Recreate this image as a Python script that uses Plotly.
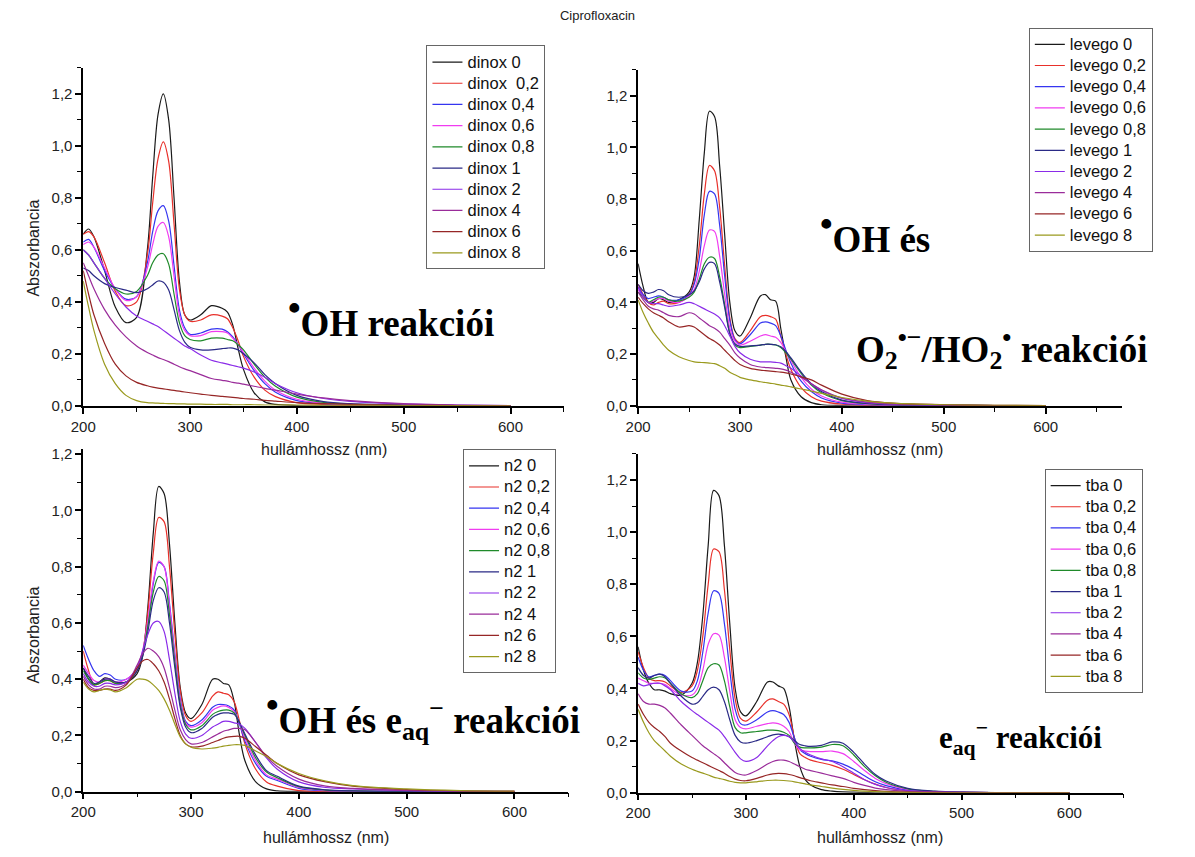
import plotly.graph_objects as go

# ---------------- data ----------------
series_suffix = ["0", "0,2", "0,4", "0,6", "0,8", "1", "2", "4", "6", "8"]
colors = ["#1a1a1a", "#e8302a", "#3535f0", "#f03cf0", "#1f8a2a",
          "#2a2a86", "#8a2be8", "#9a2c9a", "#962626", "#9a9a1e"]

# --- panel 1: dinox ---
wl_dinox = [200, 205, 210, 220, 230, 240, 250, 260, 265, 270, 275, 280, 285, 290, 295, 300,
            310, 320, 330, 335, 340, 345, 350, 360, 370, 380, 400, 425, 450, 500, 550, 600]
dinox_0 = [0.66, 0.68, 0.65, 0.52, 0.38, 0.32, 0.34, 0.60, 0.88, 1.12, 1.20, 1.10, 0.80, 0.48, 0.35, 0.33,
           0.35, 0.385, 0.375, 0.36, 0.31, 0.22, 0.14, 0.05, 0.015, 0.005, 0.001, 0, 0, 0, 0, 0]
dinox_02 = [0.66, 0.67, 0.65, 0.55, 0.44, 0.385, 0.40, 0.58, 0.78, 0.95, 1.015, 0.94, 0.70, 0.45, 0.35, 0.325,
            0.33, 0.35, 0.345, 0.335, 0.30, 0.25, 0.19, 0.11, 0.06, 0.035, 0.012, 0.005, 0.002, 0.001, 0, 0]
dinox_04 = [0.63, 0.64, 0.61, 0.52, 0.45, 0.41, 0.42, 0.55, 0.67, 0.75, 0.77, 0.71, 0.54, 0.37, 0.30, 0.275,
            0.28, 0.295, 0.295, 0.285, 0.265, 0.235, 0.20, 0.135, 0.085, 0.052, 0.02, 0.008, 0.004, 0.001, 0, 0]
dinox_06 = [0.62, 0.63, 0.61, 0.53, 0.45, 0.405, 0.42, 0.53, 0.62, 0.69, 0.705, 0.65, 0.50, 0.35, 0.29, 0.27,
            0.27, 0.285, 0.285, 0.28, 0.26, 0.235, 0.205, 0.145, 0.095, 0.06, 0.025, 0.01, 0.005, 0.002, 0.001, 0]
dinox_08 = [0.60, 0.58, 0.55, 0.49, 0.45, 0.43, 0.44, 0.50, 0.55, 0.58, 0.585, 0.545, 0.43, 0.32, 0.27, 0.255,
            0.25, 0.26, 0.26, 0.255, 0.25, 0.235, 0.215, 0.16, 0.11, 0.075, 0.033, 0.013, 0.006, 0.002, 0.001, 0]
dinox_1 = [0.53, 0.52, 0.50, 0.47, 0.455, 0.445, 0.435, 0.45, 0.465, 0.48, 0.475, 0.445, 0.37, 0.29, 0.245, 0.225,
           0.215, 0.215, 0.22, 0.222, 0.222, 0.215, 0.20, 0.165, 0.12, 0.085, 0.04, 0.016, 0.008, 0.003, 0.001, 0]
dinox_2 = [0.60, 0.58, 0.55, 0.49, 0.43, 0.38, 0.345, 0.325, 0.315, 0.305, 0.29, 0.275, 0.26, 0.245, 0.23, 0.22,
           0.195, 0.175, 0.165, 0.16, 0.155, 0.15, 0.145, 0.13, 0.11, 0.085, 0.05, 0.028, 0.017, 0.007, 0.003, 0.001]
dinox_4 = [0.55, 0.50, 0.45, 0.37, 0.31, 0.265, 0.23, 0.205, 0.195, 0.185, 0.178, 0.17, 0.16, 0.15, 0.142, 0.135,
           0.12, 0.105, 0.098, 0.095, 0.09, 0.087, 0.083, 0.075, 0.067, 0.06, 0.045, 0.03, 0.02, 0.008, 0.003, 0.001]
dinox_6 = [0.52, 0.43, 0.35, 0.24, 0.16, 0.115, 0.09, 0.077, 0.072, 0.068, 0.065, 0.062, 0.059, 0.056, 0.053, 0.05,
           0.045, 0.04, 0.036, 0.034, 0.032, 0.03, 0.028, 0.025, 0.021, 0.018, 0.012, 0.008, 0.005, 0.002, 0.001, 0]
dinox_8 = [0.48, 0.38, 0.29, 0.16, 0.085, 0.04, 0.02, 0.012, 0.011, 0.01, 0.009, 0.008, 0.008, 0.007, 0.007, 0.006,
           0.006, 0.005, 0.005, 0.005, 0.004, 0.004, 0.004, 0.004, 0.003, 0.003, 0.003, 0.002, 0.002, 0.001, 0.001, 0]

# --- panel 2: levego ---
wl_levego = [200, 205, 210, 215, 220, 225, 230, 240, 250, 255, 260, 265, 270, 275, 280, 285, 290, 295, 300,
             310, 320, 325, 330, 335, 340, 345, 350, 360, 370, 380, 400, 425, 450, 500, 550, 600]
levego_0 = [0.55, 0.46, 0.40, 0.40, 0.415, 0.41, 0.40, 0.41, 0.44, 0.50, 0.72, 0.98, 1.14, 1.12, 0.93, 0.66, 0.40, 0.29, 0.27,
            0.34, 0.425, 0.43, 0.41, 0.405, 0.30, 0.19, 0.10, 0.035, 0.012, 0.004, 0.001, 0, 0, 0, 0, 0]
levego_02 = [0.47, 0.43, 0.40, 0.39, 0.40, 0.405, 0.395, 0.40, 0.43, 0.48, 0.62, 0.82, 0.93, 0.91, 0.77, 0.54, 0.34, 0.26, 0.245,
             0.29, 0.345, 0.35, 0.345, 0.335, 0.27, 0.20, 0.14, 0.07, 0.035, 0.018, 0.006, 0.002, 0.001, 0, 0, 0]
levego_04 = [0.46, 0.43, 0.415, 0.42, 0.425, 0.42, 0.41, 0.41, 0.43, 0.47, 0.57, 0.74, 0.83, 0.82, 0.70, 0.50, 0.33, 0.255, 0.24,
             0.275, 0.32, 0.325, 0.32, 0.31, 0.27, 0.215, 0.165, 0.095, 0.055, 0.03, 0.01, 0.004, 0.002, 0.001, 0, 0]
levego_06 = [0.45, 0.42, 0.40, 0.405, 0.415, 0.415, 0.405, 0.40, 0.425, 0.45, 0.52, 0.62, 0.68, 0.675, 0.58, 0.43, 0.30, 0.25, 0.235,
             0.25, 0.27, 0.275, 0.27, 0.265, 0.245, 0.21, 0.175, 0.11, 0.065, 0.038, 0.014, 0.006, 0.003, 0.001, 0, 0]
levego_08 = [0.44, 0.42, 0.40, 0.41, 0.42, 0.42, 0.41, 0.405, 0.42, 0.44, 0.49, 0.55, 0.575, 0.57, 0.50, 0.39, 0.28, 0.235, 0.225,
             0.23, 0.235, 0.238, 0.238, 0.235, 0.225, 0.205, 0.18, 0.125, 0.08, 0.05, 0.02, 0.008, 0.004, 0.002, 0.001, 0]
levego_1 = [0.47, 0.445, 0.435, 0.44, 0.45, 0.445, 0.43, 0.42, 0.43, 0.445, 0.48, 0.53, 0.555, 0.55, 0.48, 0.38, 0.28, 0.24, 0.23,
            0.232, 0.235, 0.238, 0.238, 0.236, 0.228, 0.21, 0.185, 0.13, 0.085, 0.055, 0.022, 0.009, 0.004, 0.002, 0.001, 0]
levego_2 = [0.46, 0.42, 0.40, 0.395, 0.395, 0.39, 0.385, 0.39, 0.40, 0.395, 0.385, 0.375, 0.365, 0.355, 0.34, 0.31, 0.27, 0.23, 0.205,
            0.18, 0.17, 0.17, 0.17, 0.168, 0.165, 0.155, 0.145, 0.115, 0.085, 0.06, 0.028, 0.012, 0.006, 0.002, 0.001, 0]
levego_4 = [0.44, 0.41, 0.385, 0.375, 0.37, 0.36, 0.35, 0.345, 0.36, 0.355, 0.34, 0.325, 0.31, 0.30, 0.285, 0.26, 0.235, 0.205, 0.185,
            0.16, 0.15, 0.148, 0.147, 0.145, 0.143, 0.138, 0.13, 0.11, 0.085, 0.062, 0.03, 0.014, 0.007, 0.003, 0.001, 0]
levego_6 = [0.42, 0.395, 0.375, 0.36, 0.35, 0.34, 0.325, 0.305, 0.31, 0.305, 0.29, 0.275, 0.26, 0.25, 0.235, 0.215, 0.195, 0.175, 0.16,
            0.145, 0.138, 0.136, 0.134, 0.132, 0.13, 0.127, 0.123, 0.112, 0.10, 0.08, 0.045, 0.02, 0.01, 0.004, 0.002, 0.001]
levego_8 = [0.41, 0.36, 0.32, 0.285, 0.26, 0.235, 0.215, 0.19, 0.175, 0.17, 0.168, 0.167, 0.165, 0.163, 0.155, 0.145, 0.13, 0.12, 0.11,
            0.10, 0.093, 0.09, 0.087, 0.084, 0.08, 0.077, 0.073, 0.065, 0.057, 0.048, 0.032, 0.018, 0.01, 0.004, 0.002, 0.001]

# --- panel 3: n2 ---
wl_n2 = [200, 205, 210, 215, 220, 225, 230, 240, 250, 255, 260, 265, 270, 275, 280, 285, 290, 295, 300,
         310, 320, 325, 330, 335, 340, 345, 350, 360, 370, 380, 400, 425, 450, 500, 550, 600]
n2_0 = [0.44, 0.40, 0.38, 0.39, 0.405, 0.40, 0.39, 0.39, 0.42, 0.48, 0.66, 0.92, 1.085, 1.06, 0.88, 0.60, 0.37, 0.28, 0.26,
        0.31, 0.40, 0.40, 0.385, 0.38, 0.32, 0.20, 0.11, 0.035, 0.01, 0.003, 0.001, 0, 0, 0, 0, 0]
n2_02 = [0.50, 0.43, 0.38, 0.385, 0.395, 0.395, 0.385, 0.39, 0.43, 0.49, 0.64, 0.85, 0.975, 0.96, 0.80, 0.56, 0.36, 0.27, 0.25,
         0.28, 0.34, 0.355, 0.35, 0.345, 0.32, 0.25, 0.17, 0.08, 0.035, 0.02, 0.004, 0.001, 0, 0, 0, 0]
n2_04 = [0.52, 0.47, 0.43, 0.41, 0.42, 0.415, 0.40, 0.40, 0.44, 0.49, 0.60, 0.74, 0.815, 0.80, 0.67, 0.49, 0.33, 0.25, 0.235,
         0.255, 0.30, 0.31, 0.31, 0.305, 0.29, 0.24, 0.18, 0.10, 0.055, 0.04, 0.012, 0.004, 0.002, 0.001, 0, 0]
n2_06 = [0.45, 0.42, 0.395, 0.39, 0.40, 0.40, 0.39, 0.40, 0.44, 0.50, 0.61, 0.75, 0.82, 0.80, 0.66, 0.48, 0.32, 0.245, 0.23,
         0.245, 0.29, 0.30, 0.305, 0.30, 0.285, 0.245, 0.19, 0.11, 0.06, 0.045, 0.015, 0.005, 0.002, 0.001, 0, 0]
n2_08 = [0.43, 0.40, 0.38, 0.385, 0.395, 0.395, 0.385, 0.39, 0.43, 0.49, 0.59, 0.71, 0.765, 0.75, 0.63, 0.46, 0.31, 0.24, 0.22,
         0.235, 0.275, 0.285, 0.29, 0.29, 0.28, 0.245, 0.20, 0.12, 0.07, 0.05, 0.018, 0.006, 0.003, 0.001, 0, 0]
n2_1 = [0.44, 0.41, 0.385, 0.39, 0.40, 0.40, 0.39, 0.39, 0.43, 0.48, 0.57, 0.68, 0.725, 0.71, 0.60, 0.44, 0.30, 0.23, 0.21,
        0.225, 0.265, 0.275, 0.28, 0.28, 0.275, 0.245, 0.205, 0.13, 0.075, 0.055, 0.02, 0.007, 0.003, 0.001, 0, 0]
n2_2 = [0.42, 0.39, 0.375, 0.375, 0.385, 0.385, 0.38, 0.39, 0.44, 0.50, 0.56, 0.60, 0.605, 0.57, 0.47, 0.35, 0.25, 0.205, 0.19,
        0.20, 0.23, 0.24, 0.25, 0.25, 0.245, 0.24, 0.225, 0.175, 0.12, 0.08, 0.035, 0.015, 0.01, 0.004, 0.002, 0.001]
n2_4 = [0.41, 0.38, 0.365, 0.365, 0.375, 0.375, 0.37, 0.385, 0.45, 0.49, 0.51, 0.50, 0.48, 0.44, 0.37, 0.29, 0.22, 0.185, 0.17,
        0.175, 0.195, 0.205, 0.215, 0.22, 0.225, 0.225, 0.22, 0.175, 0.125, 0.09, 0.045, 0.02, 0.012, 0.005, 0.002, 0.001]
n2_6 = [0.40, 0.37, 0.36, 0.36, 0.365, 0.365, 0.36, 0.38, 0.44, 0.465, 0.47, 0.455, 0.43, 0.39, 0.33, 0.26, 0.20, 0.17, 0.16,
        0.162, 0.175, 0.182, 0.19, 0.195, 0.197, 0.197, 0.19, 0.16, 0.13, 0.10, 0.06, 0.035, 0.02, 0.008, 0.003, 0.001]
n2_8 = [0.39, 0.365, 0.355, 0.36, 0.365, 0.362, 0.355, 0.37, 0.40, 0.40, 0.395, 0.38, 0.36, 0.33, 0.29, 0.24, 0.195, 0.17, 0.158,
        0.152, 0.155, 0.158, 0.162, 0.165, 0.167, 0.167, 0.165, 0.145, 0.125, 0.10, 0.065, 0.038, 0.022, 0.01, 0.004, 0.002]

# --- panel 4: tba ---
wl_tba = [200, 205, 210, 215, 220, 225, 230, 240, 250, 255, 260, 265, 270, 275, 280, 285, 290, 295, 300,
          310, 320, 325, 330, 335, 340, 345, 350, 355, 360, 370, 380, 390, 400, 410, 420, 430, 450, 475, 500, 550, 600]
tba_0 = [0.56, 0.47, 0.42, 0.395, 0.395, 0.39, 0.38, 0.375, 0.42, 0.50, 0.68, 0.95, 1.16, 1.14, 0.95, 0.65, 0.40, 0.31, 0.295,
         0.35, 0.425, 0.425, 0.41, 0.40, 0.33, 0.20, 0.10, 0.05, 0.03, 0.012, 0.006, 0.003, 0.002, 0.001, 0, 0, 0, 0, 0, 0, 0]
tba_02 = [0.54, 0.48, 0.44, 0.43, 0.43, 0.425, 0.41, 0.385, 0.41, 0.47, 0.60, 0.80, 0.935, 0.925, 0.78, 0.55, 0.36, 0.285, 0.275,
          0.31, 0.355, 0.36, 0.35, 0.34, 0.30, 0.21, 0.15, 0.135, 0.125, 0.115, 0.105, 0.09, 0.07, 0.05, 0.033, 0.02, 0.008, 0.003, 0.001, 0, 0]
tba_04 = [0.52, 0.47, 0.445, 0.45, 0.455, 0.45, 0.43, 0.39, 0.39, 0.43, 0.54, 0.69, 0.775, 0.765, 0.65, 0.47, 0.32, 0.265, 0.26,
          0.28, 0.31, 0.315, 0.31, 0.30, 0.27, 0.21, 0.165, 0.15, 0.14, 0.128, 0.122, 0.11, 0.09, 0.065, 0.042, 0.027, 0.01, 0.003, 0.001, 0, 0]
tba_06 = [0.44, 0.43, 0.42, 0.42, 0.42, 0.415, 0.40, 0.375, 0.375, 0.40, 0.47, 0.57, 0.61, 0.605, 0.52, 0.39, 0.28, 0.25, 0.245,
          0.255, 0.265, 0.268, 0.265, 0.255, 0.235, 0.19, 0.165, 0.16, 0.158, 0.158, 0.16, 0.15, 0.12, 0.085, 0.055, 0.035, 0.013, 0.004, 0.001, 0, 0]
tba_08 = [0.46, 0.44, 0.435, 0.44, 0.445, 0.44, 0.42, 0.38, 0.365, 0.38, 0.43, 0.48, 0.495, 0.49, 0.43, 0.33, 0.25, 0.23, 0.23,
          0.235, 0.24, 0.24, 0.238, 0.232, 0.22, 0.19, 0.175, 0.172, 0.172, 0.175, 0.185, 0.18, 0.145, 0.10, 0.065, 0.04, 0.015, 0.005, 0.002, 0, 0]
tba_1 = [0.48, 0.45, 0.44, 0.45, 0.455, 0.445, 0.42, 0.37, 0.34, 0.345, 0.37, 0.395, 0.405, 0.395, 0.35, 0.28, 0.22, 0.195, 0.19,
         0.20, 0.215, 0.222, 0.225, 0.222, 0.215, 0.20, 0.185, 0.18, 0.178, 0.182, 0.195, 0.19, 0.155, 0.11, 0.07, 0.045, 0.017, 0.006, 0.002, 0, 0]
tba_2 = [0.42, 0.41, 0.415, 0.42, 0.42, 0.41, 0.395, 0.35, 0.315, 0.30, 0.285, 0.27, 0.255, 0.24, 0.215, 0.185, 0.155, 0.13, 0.12,
         0.135, 0.18, 0.20, 0.215, 0.22, 0.215, 0.195, 0.17, 0.155, 0.145, 0.13, 0.12, 0.10, 0.075, 0.05, 0.032, 0.02, 0.008, 0.003, 0.001, 0, 0]
tba_4 = [0.38, 0.35, 0.34, 0.34, 0.335, 0.325, 0.305, 0.26, 0.22, 0.20, 0.18, 0.165, 0.15, 0.135, 0.115, 0.095, 0.078, 0.07, 0.068,
         0.085, 0.11, 0.12, 0.125, 0.125, 0.12, 0.11, 0.10, 0.09, 0.085, 0.075, 0.065, 0.055, 0.04, 0.028, 0.018, 0.012, 0.005, 0.002, 0.001, 0, 0]
tba_6 = [0.34, 0.30, 0.27, 0.25, 0.235, 0.215, 0.19, 0.16, 0.135, 0.125, 0.115, 0.105, 0.095, 0.085, 0.075, 0.062, 0.052, 0.047, 0.046,
         0.055, 0.068, 0.072, 0.074, 0.073, 0.07, 0.065, 0.058, 0.052, 0.046, 0.038, 0.03, 0.024, 0.017, 0.012, 0.008, 0.005, 0.002, 0.001, 0, 0, 0]
tba_8 = [0.32, 0.27, 0.23, 0.20, 0.18, 0.16, 0.14, 0.11, 0.09, 0.082, 0.075, 0.068, 0.06, 0.055, 0.05, 0.044, 0.04, 0.038, 0.038,
         0.042, 0.047, 0.048, 0.048, 0.047, 0.045, 0.042, 0.038, 0.034, 0.03, 0.024, 0.018, 0.013, 0.009, 0.006, 0.004, 0.003, 0.001, 0, 0, 0, 0]

panels = [
    dict(labels=["dinox 0", "dinox\u00a0\u00a00,2"] + ["dinox " + s for s in series_suffix[2:]],
         wl=wl_dinox, data=[dinox_0, dinox_02, dinox_04, dinox_06, dinox_08, dinox_1, dinox_2, dinox_4, dinox_6, dinox_8],
         xa="x", ya="y", legend="legend"),
    dict(labels=["levego " + s for s in series_suffix],
         wl=wl_levego, data=[levego_0, levego_02, levego_04, levego_06, levego_08, levego_1, levego_2, levego_4, levego_6, levego_8],
         xa="x2", ya="y2", legend="legend2"),
    dict(labels=["n2 " + s for s in series_suffix],
         wl=wl_n2, data=[n2_0, n2_02, n2_04, n2_06, n2_08, n2_1, n2_2, n2_4, n2_6, n2_8],
         xa="x3", ya="y3", legend="legend3"),
    dict(labels=["tba " + s for s in series_suffix],
         wl=wl_tba, data=[tba_0, tba_02, tba_04, tba_06, tba_08, tba_1, tba_2, tba_4, tba_6, tba_8],
         xa="x4", ya="y4", legend="legend4"),
]

LEG_TXT = "<span style='font-size:16.5px'>{}</span>"

fig = go.Figure()
for p in panels:
    for lab, ys, col in zip(p["labels"], p["data"], colors):
        fig.add_trace(go.Scatter(x=p["wl"], y=ys, mode="lines", name=LEG_TXT.format(lab),
                                 line=dict(color=col, width=1.2, shape="spline", smoothing=0.9),
                                 xaxis=p["xa"], yaxis=p["ya"], legend=p["legend"]))

W, H = 1195, 857
def px_x(a, b):
    return [a / W, b / W]
def px_y(bottom, top):
    return [1 - bottom / H, 1 - top / H]

sans = "Liberation Sans, Arial, sans-serif"
tickfont = dict(family=sans, size=15, color="#222")

def xaxis(domain, anchor, xmax):
    return dict(domain=domain, anchor=anchor, range=[200, xmax], showline=True, linecolor="black",
                linewidth=1.5, ticks="outside", ticklen=6, tickwidth=1.5, tickcolor="black",
                tick0=200, dtick=100, showgrid=False, zeroline=False, tickfont=tickfont,
                minor=dict(dtick=50, ticks="outside", ticklen=4, tickwidth=1.2, tickcolor="black"))

def yaxis(domain, anchor, top):
    return dict(domain=domain, anchor=anchor, range=[0, top], showline=True, linecolor="black",
                linewidth=1.5, ticks="outside", ticklen=6, tickwidth=1.5, tickcolor="black",
                tick0=0, dtick=0.2, tickformat=".1f", showgrid=False, zeroline=False, tickfont=tickfont,
                minor=dict(dtick=0.1, ticks="outside", ticklen=4, tickwidth=1.2, tickcolor="black"))

legend_common = dict(font=dict(family=sans, size=14, color="#111"),
                     bordercolor="#666", borderwidth=1, bgcolor="white", xanchor="left", yanchor="top",
                     tracegroupgap=0, itemclick=False)

serif = "Liberation Serif, Times New Roman, serif"
big = dict(family=serif, size=37, color="black")
lab_font = dict(family=sans, size=16, color="#222")
DOT = "<sup><span style='font-size:36px'>•</span></sup>"

annotations = [
    dict(text="<b>" + DOT + "OH reakciói</b>", x=276 / W, y=1 - 317 / H),
    dict(text="<b>" + DOT + "OH és</b>", x=814 / W, y=1 - 232 / H),
    dict(text="<b>O<sub>2</sub><sup>•−</sup>/HO<sub>2</sub><sup>•</sup> reakciói</b>", x=850 / W, y=1 - 350 / H),
    dict(text="<b>" + DOT + "OH és e<sub>aq</sub><sup>−</sup> reakciói</b>", x=254 / W, y=1 - 722 / H),
    dict(text="<b>e<sub>aq</sub><sup>−</sup> reakciói</b>", x=934 / W, y=1 - 745 / H,
         font=dict(family=serif, size=31, color="black")),
]
for a in annotations:
    a.setdefault("font", big)
    a.update(xref="paper", yref="paper", showarrow=False, xanchor="left", yanchor="middle")

axis_titles = [
    dict(text="hullámhossz (nm)", x=314 / W, y=1 - 452 / H),
    dict(text="hullámhossz (nm)", x=877 / W, y=1 - 452 / H),
    dict(text="hullámhossz (nm)", x=316 / W, y=1 - 845 / H),
    dict(text="hullámhossz (nm)", x=877 / W, y=1 - 845 / H),
]
for a in axis_titles:
    a.update(xref="paper", yref="paper", showarrow=False, font=lab_font, xanchor="center", yanchor="middle")
ytitles = [
    dict(text="Abszorbancia", x=21 / W, y=1 - 248 / H),
    dict(text="Abszorbancia", x=21 / W, y=1 - 640 / H),
]
for a in ytitles:
    a.update(xref="paper", yref="paper", showarrow=False, font=lab_font, textangle=-90,
             xanchor="center", yanchor="middle")

fig.update_layout(
    width=W, height=H, margin=dict(l=0, r=0, t=0, b=0),
    paper_bgcolor="white", plot_bgcolor="white", separators=", ",
    title=dict(text="Ciprofloxacin", x=0.5, xanchor="center", y=1 - 15 / H, yanchor="middle",
               font=dict(family=sans, size=13, color="#222")),
    xaxis=xaxis(px_x(71, 557), "y", 650),
    yaxis=yaxis(px_y(408, 408 - 1.3 * 263.3), "x", 1.3),
    xaxis2=xaxis(px_x(632, 632 + 475 * 1.03), "y2", 675),
    yaxis2=yaxis(px_y(408, 408 - 1.3 * 261.7), "x2", 1.3),
    xaxis3=xaxis(px_x(71, 71 + 450 * 1.09), "y3", 650),
    yaxis3=yaxis(px_y(799, 799 - 1.22 * 285), "x3", 1.22),
    xaxis4=xaxis(px_x(632, 632 + 450 * 1.09), "y4", 650),
    yaxis4=yaxis(px_y(800, 800 - 1.3 * 264), "x4", 1.3),
    legend=dict(legend_common, x=418 / W, y=1 - 43 / H),
    legend2=dict(legend_common, x=1027 / W, y=1 - 25 / H),
    legend3=dict(legend_common, x=455 / W, y=1 - 452 / H),
    legend4=dict(legend_common, x=1043 / W, y=1 - 472 / H),
    annotations=annotations + axis_titles + ytitles,
    showlegend=True,
)

fig.write_html("out.html", config={"displayModeBar": False},
               post_script="document.body.style.margin='0';document.body.style.overflow='hidden';")
